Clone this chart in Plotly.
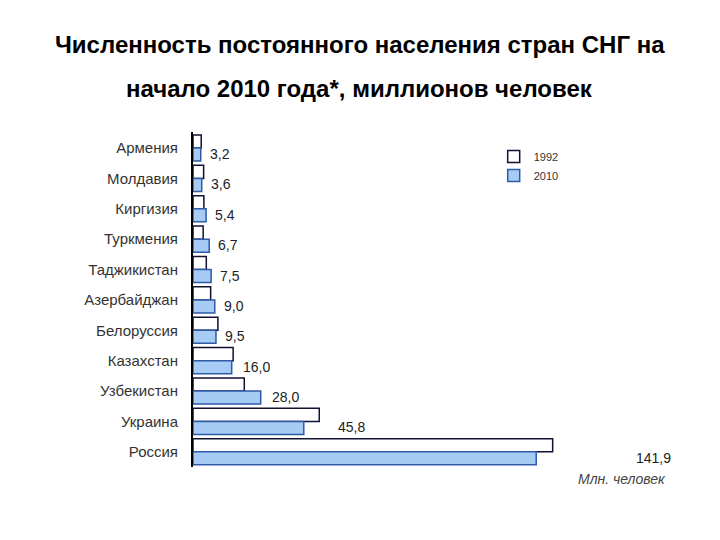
import plotly.graph_objects as go

# population of CIS countries, millions
countries = ["Армения", "Молдавия", "Киргизия", "Туркмения", "Таджикистан",
             "Азербайджан", "Белоруссия", "Казахстан", "Узбекистан", "Украина", "Россия"]
pop_1992 = [3.4, 4.4, 4.5, 4.2, 5.5, 7.3, 10.3, 16.6, 21.2, 52.2, 148.7]
pop_2010 = [3.2, 3.6, 5.4, 6.7, 7.5, 9.0, 9.5, 16.0, 28.0, 45.8, 141.9]
labels_2010 = ["3,2", "3,6", "5,4", "6,7", "7,5", "9,0", "9,5", "16,0", "28,0", "45,8", "141,9"]

FONT = "Liberation Sans, Arial"


def label_shift(v):
    # the labels drift further right as the bars get longer
    if v > 100:
        return 117
    if v > 40:
        return 48
    if v > 12:
        return 25
    return 19


fig = go.Figure()
fig.add_trace(go.Bar(
    y=countries, x=pop_1992, orientation="h", name="1992",
    marker=dict(color="white", line=dict(color="#111133", width=1.5)),
))
fig.add_trace(go.Bar(
    y=countries, x=pop_2010, orientation="h", name="2010",
    marker=dict(color="#a6cbf5", line=dict(color="#2f5aa8", width=1.5)),
))

for c, v, t in zip(countries, pop_2010, labels_2010):
    fig.add_annotation(x=v, y=c, text=t, showarrow=False, xanchor="center",
                       xshift=label_shift(v), yshift=-6,
                       font=dict(family=FONT, size=14, color="#222222"))

fig.add_annotation(text="<i>Млн. человек</i>", xref="paper", yref="paper", x=1.228, y=-0.035,
                   xanchor="right", yanchor="middle", showarrow=False,
                   font=dict(family=FONT, size=14, color="#444444"))

# two-line title with wide spacing
fig.add_annotation(text="<b>Численность постоянного населения стран СНГ на</b>",
                   xref="paper", yref="paper", x=0.5, y=1.26, showarrow=False,
                   xanchor="center", yanchor="middle", xshift=-27,
                   font=dict(family=FONT, size=24, color="black"))
fig.add_annotation(text="<b>начало 2010 года*, миллионов человек</b>",
                   xref="paper", yref="paper", x=0.5, y=1.13, showarrow=False,
                   xanchor="center", yanchor="middle", xshift=-27,
                   font=dict(family=FONT, size=24, color="black"))

fig.update_layout(
    width=720, height=540,
    paper_bgcolor="white", plot_bgcolor="white",
    margin=dict(l=185, r=148, t=124, b=81, autoexpand=False),
    barmode="group", bargap=0.14, bargroupgap=0.0,
    legend=dict(x=0.777, y=0.97, xanchor="left", yanchor="top",
                font=dict(family=FONT, size=11, color="#333333"),
                itemwidth=30, tracegroupgap=0, bgcolor="rgba(0,0,0,0)"),
    showlegend=True,
)
fig.update_xaxes(range=[0, 160], showticklabels=False, showgrid=False,
                 zeroline=False, showline=False)
fig.update_yaxes(autorange="reversed", showgrid=False, showline=True,
                 linecolor="black", linewidth=2, ticks="", ticklabelstandoff=10,
                 tickfont=dict(family=FONT, size=15, color="#333333"))

fig.write_html("out.html")
